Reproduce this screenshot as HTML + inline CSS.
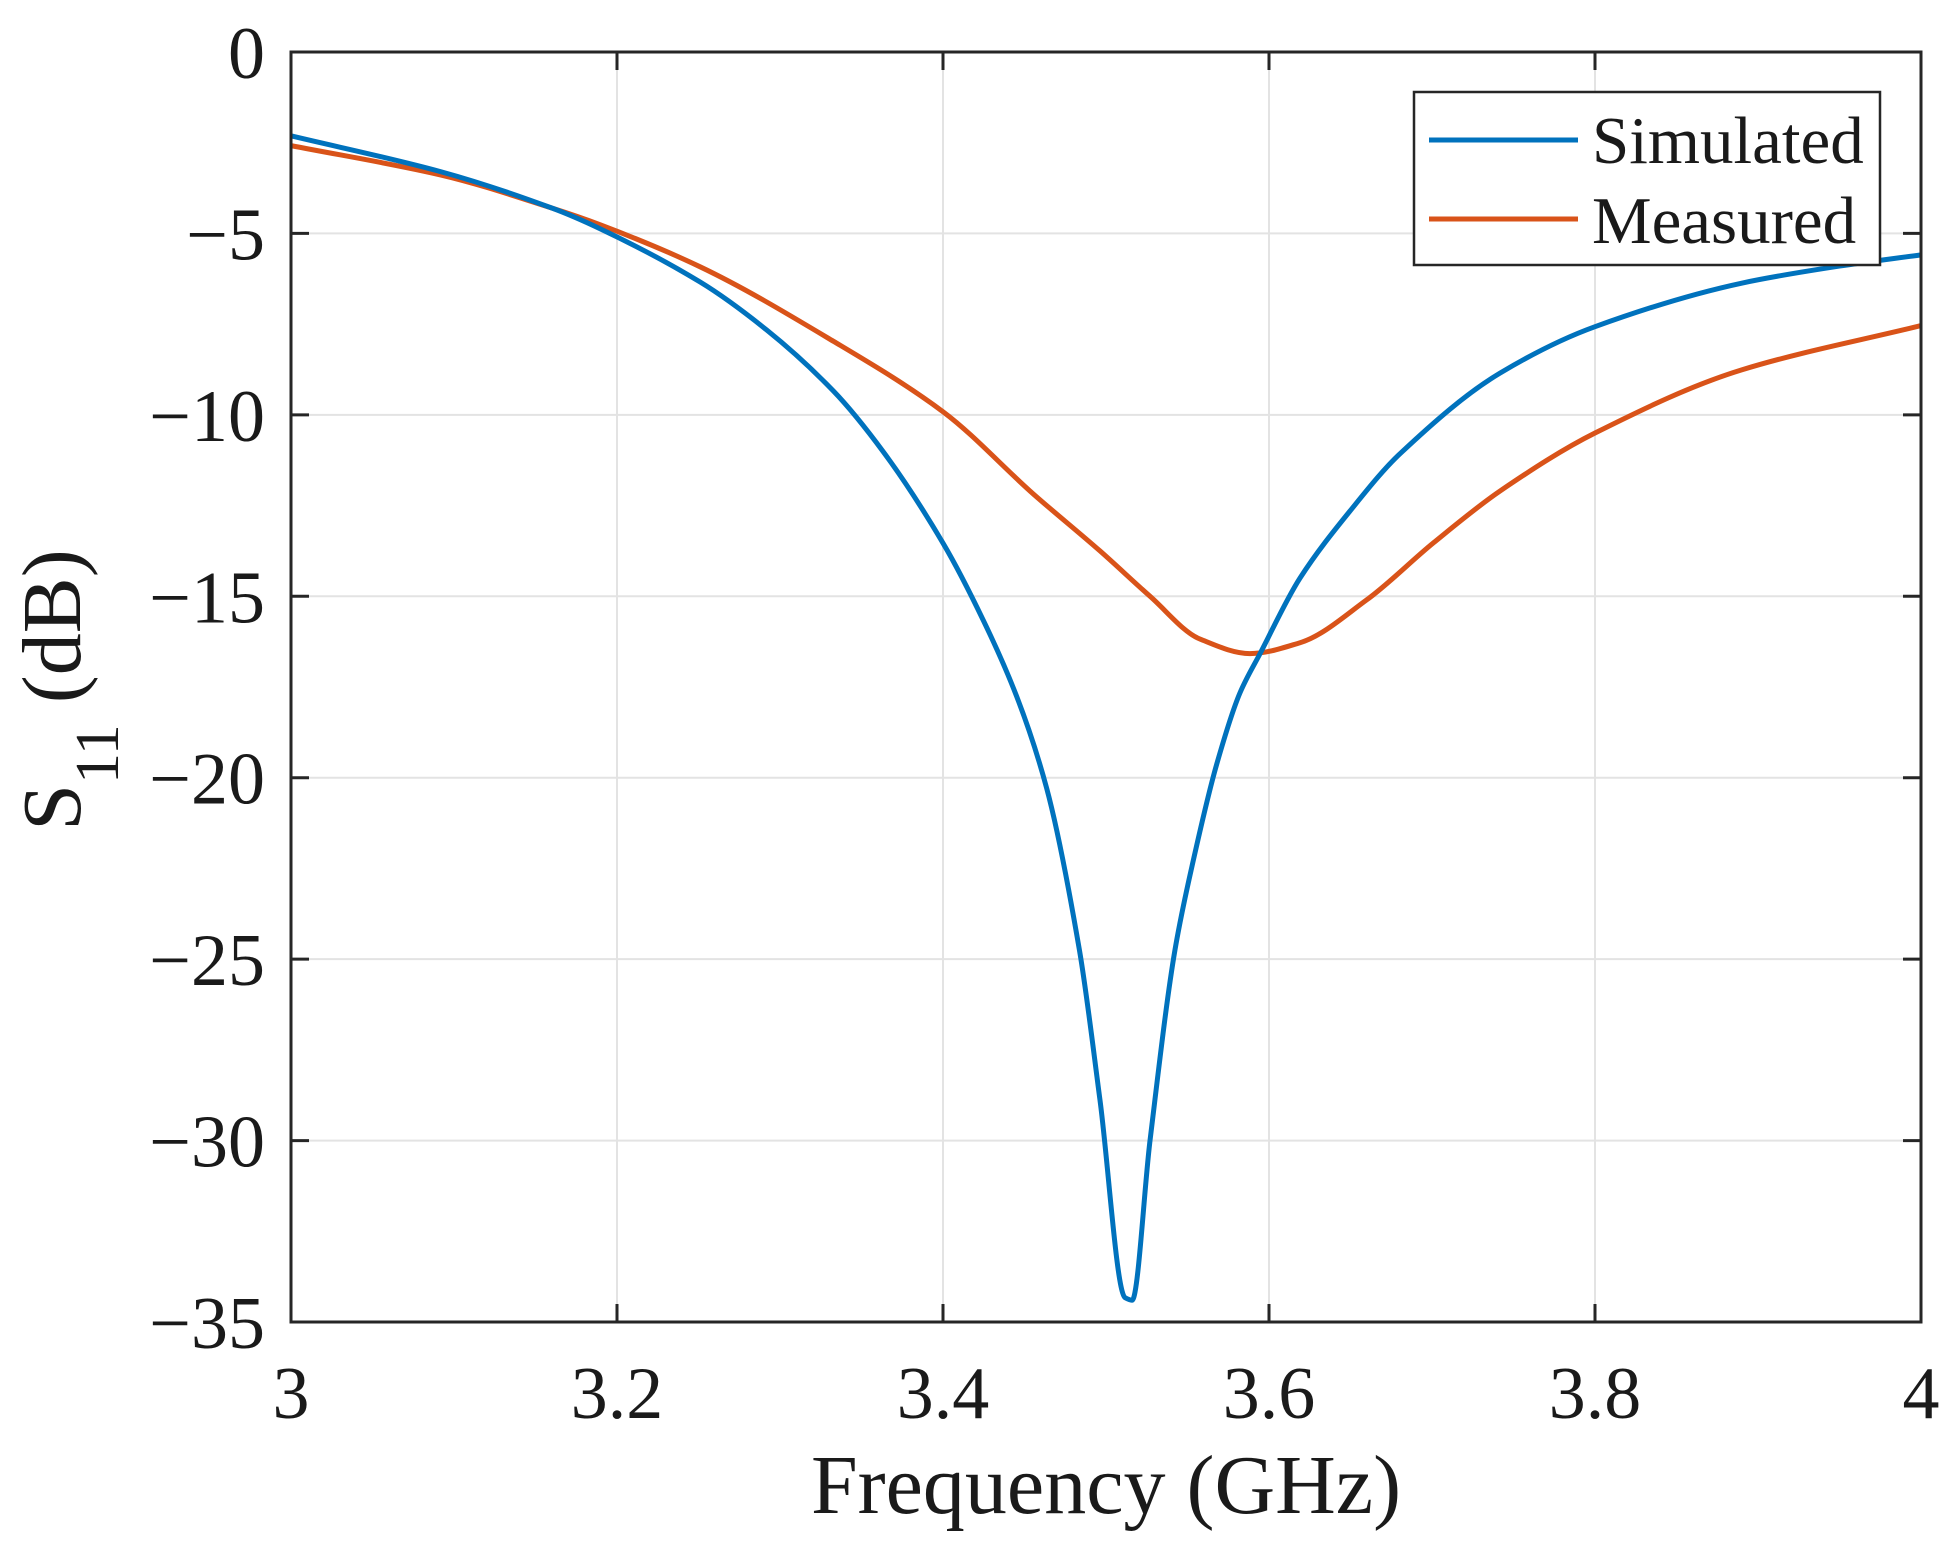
<!DOCTYPE html>
<html><head><meta charset="utf-8">
<style>
html,body{margin:0;padding:0;background:#fff;}
svg{display:block;font-family:"Liberation Serif",serif;}
</style></head>
<body>
<svg id="chart" width="1957" height="1551" viewBox="0 0 1957 1551" xmlns="http://www.w3.org/2000/svg">
  <rect x="0" y="0" width="1957" height="1551" fill="#fff"/>
  <g id="grid"></g>
  <g id="series"></g>
  <rect x="291" y="52" width="1630" height="1270" fill="none" stroke="#262626" stroke-width="3"/>
  <g id="ticks"></g>
  <g id="ticklabels" font-size="74" fill="#1a1a1a"></g>
  <text x="1106" y="1513" font-size="84" text-anchor="middle" fill="#1a1a1a">Frequency (GHz)</text>
  <text transform="translate(80,690) rotate(-90)" font-size="84" text-anchor="middle" fill="#1a1a1a">S<tspan font-size="62" dy="38">11</tspan><tspan dy="-38"> (dB)</tspan></text>
  <g>
    <rect x="1414" y="92" width="466" height="173" fill="#fff" stroke="#262626" stroke-width="2.5"/>
    <line x1="1429" y1="140" x2="1578" y2="140" stroke="#0072BD" stroke-width="5"/>
    <text x="1592" y="163" font-size="67" fill="#1a1a1a">Simulated</text>
    <line x1="1429" y1="219" x2="1578" y2="219" stroke="#D95319" stroke-width="5"/>
    <text x="1592" y="243" font-size="67" fill="#1a1a1a">Measured</text>
  </g>
</svg>
<script>
const xTicks = [3, 3.2, 3.4, 3.6, 3.8, 4];
const xTickLabels = ["3", "3.2", "3.4", "3.6", "3.8", "4"];
const yTicks = [0, -5, -10, -15, -20, -25, -30, -35];
const yTickLabels = ["0", "\u22125", "\u221210", "\u221215", "\u221220", "\u221225", "\u221230", "\u221235"];
const simFreq = [3.00, 3.092, 3.16, 3.1896, 3.251, 3.2918, 3.3327, 3.3634, 3.4002, 3.4247, 3.4452, 3.4636, 3.4837, 3.4963, 3.5117, 3.516, 3.527, 3.5423, 3.5536, 3.5679, 3.5822, 3.5945, 3.619, 3.6497, 3.6804, 3.7417, 3.80, 3.89, 3.95, 4.00];
const simS11 = [-2.31, -3.30, -4.30, -4.87, -6.34, -7.66, -9.34, -11.02, -13.55, -15.66, -17.76, -20.29, -24.75, -28.88, -34.33, -34.4, -30.0, -24.75, -22.27, -19.63, -17.66, -16.58, -14.5, -12.65, -11.07, -8.85, -7.57, -6.37, -5.9, -5.59];
const measFreq = [3.00, 3.092, 3.16, 3.1896, 3.251, 3.3327, 3.4002, 3.4554, 3.4963, 3.527, 3.5577, 3.5883, 3.619, 3.6599, 3.7008, 3.7417, 3.80, 3.89, 4.00];
const measS11 = [-2.58, -3.39, -4.30, -4.76, -5.92, -7.97, -9.92, -12.18, -13.75, -15.0, -16.18, -16.58, -16.28, -15.1, -13.53, -12.1, -10.5, -8.76, -7.54];

const X0 = 291, X1 = 1921, Y0 = 52, Y1 = 1322;
const xMin = 3, xMax = 4, yMin = -35, yMax = 0;
function sx(v){ return X0 + (v - xMin) / (xMax - xMin) * (X1 - X0); }
function sy(v){ return Y0 + (yMax - v) / (yMax - yMin) * (Y1 - Y0); }
const NS = "http://www.w3.org/2000/svg";
function mk(tag, attrs, parent){
  const e = document.createElementNS(NS, tag);
  for (const k in attrs) e.setAttribute(k, attrs[k]);
  parent.appendChild(e);
  return e;
}
const grid = document.getElementById('grid');
const ticks = document.getElementById('ticks');
const tl = document.getElementById('ticklabels');

xTicks.forEach((t, i) => {
  const x = sx(t);
  const g = mk('line', {x1:x, y1:Y0, x2:x, y2:Y1, stroke:'#e3e3e3', 'stroke-width':2}, grid);
  
  
  const a = mk('line', {x1:x, y1:Y1, x2:x, y2:Y1-18, stroke:'#262626', 'stroke-width':3}, ticks);
  
  
  const b = mk('line', {x1:x, y1:Y0, x2:x, y2:Y0+18, stroke:'#262626', 'stroke-width':3}, ticks);
  
  
  const tx = mk('text', {x:x, y:1418, 'text-anchor':'middle'}, tl);
  tx.textContent = xTickLabels[i];
  
  
});
yTicks.forEach((t, i) => {
  const y = sy(t);
  const g = mk('line', {x1:X0, y1:y, x2:X1, y2:y, stroke:'#e3e3e3', 'stroke-width':2}, grid);
  
  
  const a = mk('line', {x1:X0, y1:y, x2:X0+18, y2:y, stroke:'#262626', 'stroke-width':3}, ticks);
  
  
  const b = mk('line', {x1:X1, y1:y, x2:X1-18, y2:y, stroke:'#262626', 'stroke-width':3}, ticks);
  
  
  const tx = mk('text', {x:265, y:y+26, 'text-anchor':'end'}, tl);
  tx.textContent = yTickLabels[i];
  
  
});

function monotonePath(xs, ys){
  const n = xs.length;
  const d = [], m = new Array(n);
  for (let i = 0; i < n-1; i++) d.push((ys[i+1]-ys[i])/(xs[i+1]-xs[i]));
  m[0] = d[0]; m[n-1] = d[n-2];
  for (let i = 1; i < n-1; i++){
    if (d[i-1]*d[i] <= 0) m[i] = 0;
    else m[i] = 3*(d[i-1]+d[i]) / ((2*d[i]+d[i-1])/d[i-1] + (d[i]+2*d[i-1])/d[i]);
  }
  let p = 'M' + sx(xs[0]).toFixed(2) + ',' + sy(ys[0]).toFixed(2);
  for (let i = 0; i < n-1; i++){
    const h = xs[i+1]-xs[i];
    const c1x = xs[i] + h/3, c1y = ys[i] + m[i]*h/3;
    const c2x = xs[i+1] - h/3, c2y = ys[i+1] - m[i+1]*h/3;
    p += ' C' + sx(c1x).toFixed(2) + ',' + sy(c1y).toFixed(2) + ' ' + sx(c2x).toFixed(2) + ',' + sy(c2y).toFixed(2) + ' ' + sx(xs[i+1]).toFixed(2) + ',' + sy(ys[i+1]).toFixed(2);
  }
  return p;
}
const series = document.getElementById('series');
const pm = mk('path', {d: monotonePath(measFreq, measS11), fill:'none', stroke:'#D95319', 'stroke-width':5, 'stroke-linejoin':'round'}, series);


const ps = mk('path', {d: monotonePath(simFreq, simS11), fill:'none', stroke:'#0072BD', 'stroke-width':5, 'stroke-linejoin':'round'}, series);


</script>
</body></html>
